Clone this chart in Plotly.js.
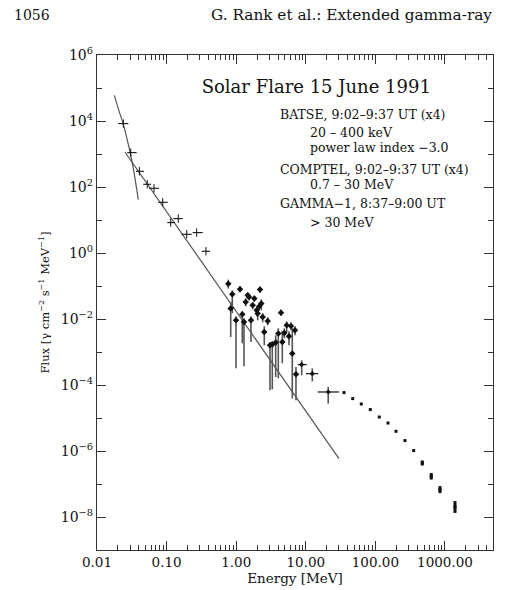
<!DOCTYPE html>
<html>
<head>
<meta charset="utf-8">
<script src="https://cdn.plot.ly/plotly-3.0.1.min.js"></script>
<style>html,body{margin:0;padding:0;background:#fff;}#chart{width:526px;height:590px;}</style>
</head>
<body>
<div id="chart"></div>
<script>
// ---------- BATSE spectrum (crosses) ----------
const batseE    = [0.0239, 0.0305, 0.0406, 0.0528, 0.0659, 0.0879, 0.1146, 0.1472, 0.1946, 0.2704, 0.3681];
const batseElo  = [0.0202, 0.0272, 0.0363, 0.0462, 0.0563, 0.0760, 0.1023, 0.1247, 0.1648, 0.2371, 0.3192];
const batseEhi  = [0.0282, 0.0371, 0.0473, 0.0597, 0.0778, 0.1038, 0.1321, 0.1703, 0.2297, 0.3304, 0.4207];
const batseFlux = [8340, 1100, 299, 121, 91.4, 34.4, 8.34, 11.0, 3.69, 4.15, 1.13];

// ---------- BATSE thermal component (curve) ----------
const thermE    = [0.01774, 0.02037, 0.0239, 0.0291, 0.0333, 0.0392];
const thermFlux = [6.01e4, 2.26e4, 7940, 1460, 361, 41.5];

// ---------- power law, index -3.0 (end points) ----------
const plawE    = [0.0252, 30.0];
const plawFlux = [1150, 5.89e-7];

// ---------- COMPTEL spectrum (diamonds with error bars) ----------
const compE    = [0.770, 0.834, 0.879, 0.993, 1.134, 1.224, 1.294, 1.369, 1.462, 1.527, 1.632, 1.726,
                  1.820, 1.970, 2.037, 2.148, 2.198, 2.294, 2.404, 2.533, 2.835, 3.059, 3.302, 3.694,
                  4.027, 4.403, 4.597, 4.911, 5.317, 5.735, 6.124, 6.397, 6.998, 7.23];
const compFlux = [0.118, 0.0207, 0.0560, 0.00914, 0.0794, 0.0139, 0.00811, 0.0327, 0.0523, 0.0465, 0.00914, 0.0260,
                  0.0415, 0.0184, 0.0146, 0.0243, 0.0778, 0.0293, 0.0115, 0.00404, 0.00869, 0.0016, 0.00168, 0.00193,
                  0.00361, 0.0156, 0.00201, 0.00377, 0.00644, 0.00299, 0.00614, 8.95e-4, 0.00455, 2.11e-4];
const compLo   = [0.0834, 0.00285, 0.0149, 3.21e-4, 0.0644, 0.00184, 3.69e-4, 0.0243, 0.042, 0.037, 0.00201, 0.0197,
                  0.033, 0.0121, 0.00914, 0.019, 0.062, 0.0184, 0.00794, 0.0016, 0.00644, 6.9e-5, 7.41e-5, 1.75e-4,
                  1.6e-4, 0.0125, 4.55e-4, 0.0026, 0.00395, 0.0016, 0.00455, 3.95e-5, 0.00321, 3.44e-5];
const compHi   = [0.156, 0.0327, 0.0741, 0.0121, 0.098, 0.0171, 0.0105, 0.0424, 0.064, 0.057, 0.0121, 0.0320,
                  0.051, 0.0243, 0.0197, 0.031, 0.095, 0.0395, 0.0149, 0.00601, 0.0113, 0.00197, 0.0021, 0.00321,
                  0.00522, 0.0195, 0.00424, 0.00522, 0.00851, 0.00424, 0.00794, 0.00522, 0.00601, 3.51e-4];

// ---------- COMPTEL wide energy bins (crosses) ----------
const compBinE    = [8.73, 12.4, 21.0];
const compBinElo  = [7.65, 10.07, 14.8];
const compBinEhi  = [10.3, 15.1, 30.0];
const compBinFlux = [4.15e-4, 2.21e-4, 6.14e-5];
const compBinLo   = [1.97e-4, 1.29e-4, 2.73e-5];
const compBinHi   = [5.6e-4, 3.21e-4, 8.7e-5];

// ---------- GAMMA-1 spectrum ----------
const gamE    = [35.4, 47.2, 62.7, 84.5, 113.7, 151.8, 197.8, 266.2, 355, 472, 635, 847, 1393];
const gamFlux = [5.89e-5, 3.87e-5, 2.66e-5, 1.8e-5, 1.07e-5, 7.05e-6, 3.95e-6, 2.07e-6, 1.03e-6, 4.33e-7, 1.71e-7, 6.76e-8, 2.01e-8];
const gamLo   = [5.89e-5, 3.87e-5, 2.66e-5, 1.8e-5, 1.07e-5, 7.05e-6, 3.95e-6, 2.07e-6, 1.03e-6, 3.63e-7, 1.36e-7, 5.3e-8, 1.33e-8];
const gamHi   = [5.89e-5, 3.87e-5, 2.66e-5, 1.8e-5, 1.07e-5, 7.05e-6, 3.95e-6, 2.07e-6, 1.03e-6, 5.15e-7, 2.15e-7, 8.63e-8, 3.04e-8];

// ---------- axis ticks ----------
const xTickVals  = [0.01, 0.1, 1, 10, 100, 1000];
const xTickText  = ['0.01', '0.10', '1.00', '10.00', '100.00', '1000.00'];
const yTickVals  = [1e6, 1e4, 1e2, 1e0, 1e-2, 1e-4, 1e-6, 1e-8];
const yTickText  = ['10<sup>6</sup>', '10<sup>4</sup>', '10<sup>2</sup>', '10<sup>0</sup>',
                    '10<sup>\u22122</sup>', '10<sup>\u22124</sup>', '10<sup>\u22126</sup>', '10<sup>\u22128</sup>'];

// ---------- text ----------
const chartTitle = 'Solar Flare 15 June 1991';
const legendLines = [
  'BATSE, 9:02\u20139:37 UT (x4)',
  '20 \u2013 400 keV',
  'power law index \u22123.0',
  'COMPTEL, 9:02\u20139:37 UT (x4)',
  '0.7 \u2013 30 MeV',
  'GAMMA\u22121, 8:37\u20139:00 UT',
  '> 30 MeV'
];
const legendIndent = [false, true, true, false, true, false, true];

// derived helpers
const xMinorVals = [];
for (let d = -2; d <= 3; d++) for (let m = 2; m <= 9; m++) { const v = m * Math.pow(10, d); if (v < 5000) xMinorVals.push(v); }
const yMinorVals = [1e5, 1e3, 1e1, 1e-1, 1e-3, 1e-5, 1e-7];
const sub = (a, b) => a.map((v, i) => v - b[i]);

const FONT = 'DejaVu Serif';
const INK = '#111';
const GREY = '#555';

const traces = [
  { // thermal curve
    x: thermE, y: thermFlux, mode: 'lines', type: 'scatter',
    line: { color: GREY, width: 1.2, shape: 'spline', smoothing: 0.8 }, hoverinfo: 'skip'
  },
  { // power law
    x: plawE, y: plawFlux, mode: 'lines', type: 'scatter',
    line: { color: GREY, width: 1.2 }, hoverinfo: 'skip'
  },
  { // BATSE
    x: batseE, y: batseFlux, mode: 'markers', type: 'scatter',
    marker: { symbol: 'line-ns-open', size: 6, color: INK, line: { color: INK, width: 1 } },
    error_x: { type: 'data', symmetric: false, array: sub(batseEhi, batseE), arrayminus: sub(batseE, batseElo),
               color: INK, thickness: 1.1, width: 0 }
  },
  { // COMPTEL
    x: compE, y: compFlux, mode: 'markers', type: 'scatter',
    marker: { symbol: 'diamond', size: 5, color: INK },
    error_y: { type: 'data', symmetric: false, array: sub(compHi, compFlux), arrayminus: sub(compFlux, compLo),
               color: GREY, thickness: 1.6, width: 0 }
  },
  { // COMPTEL wide bins
    x: compBinE, y: compBinFlux, mode: 'markers', type: 'scatter',
    marker: { symbol: 'diamond', size: 4, color: INK },
    error_x: { type: 'data', symmetric: false, array: sub(compBinEhi, compBinE), arrayminus: sub(compBinE, compBinElo),
               color: INK, thickness: 1.2, width: 0 },
    error_y: { type: 'data', symmetric: false, array: sub(compBinHi, compBinFlux), arrayminus: sub(compBinFlux, compBinLo),
               color: GREY, thickness: 1.6, width: 0 }
  },
  { // GAMMA-1
    x: gamE, y: gamFlux, mode: 'markers', type: 'scatter',
    marker: { symbol: 'square', size: 3, color: INK },
    error_y: { type: 'data', symmetric: false, array: sub(gamHi, gamFlux), arrayminus: sub(gamFlux, gamLo),
               color: INK, thickness: 3, width: 0 }
  }
];

const annotations = [
  { text: '1056', xref: 'paper', yref: 'paper', x: -0.2154, y: 1.0808, xanchor: 'left', yanchor: 'middle',
    showarrow: false, font: { family: FONT, size: 14, color: INK } },
  { text: 'G. Rank et al.: Extended gamma-ray', xref: 'paper', yref: 'paper', x: 0.2836, y: 1.0808,
    xanchor: 'left', yanchor: 'middle', showarrow: false, font: { family: FONT, size: 15.3, color: INK } }
];
const legendY = [0.8802, 0.843, 0.8135, 0.769, 0.7388, 0.699, 0.6626];
legendLines.forEach((t, i) => {
  annotations.push({ text: t, xref: 'paper', yref: 'paper', x: legendIndent[i] ? 0.5336 : 0.4563, y: legendY[i],
    xanchor: 'left', yanchor: 'middle', showarrow: false, font: { family: FONT, size: 12.5, color: INK } });
});

const axisCommon = {
  type: 'log', showgrid: false, zeroline: false, showline: true, linecolor: '#333', linewidth: 1.2,
  mirror: 'allticks', ticks: 'inside', ticklen: 9, tickwidth: 1, tickcolor: '#333',
  tickmode: 'array', tickfont: { family: FONT, size: 13.5, color: INK }
};

const layout = {
  width: 526, height: 590,
  margin: { l: 97, r: 33, t: 55, b: 40, pad: 0 },
  paper_bgcolor: '#fff', plot_bgcolor: '#fff',
  showlegend: false,
  font: { family: FONT, color: INK },
  title: { text: chartTitle, xref: 'paper', yref: 'paper', x: 0.2644, xanchor: 'left', y: 0.936, yanchor: 'middle',
           font: { family: FONT, size: 18, color: INK } },
  xaxis: Object.assign({}, axisCommon, {
    range: [-2, 3.69], tickvals: xTickVals, ticktext: xTickText,
    minor: { tickmode: 'array', tickvals: xMinorVals, ticks: 'inside', ticklen: 5, tickcolor: '#333', tickwidth: 1 },
    title: { text: 'Energy [MeV]', font: { family: FONT, size: 13.5, color: INK }, standoff: 3 }
  }),
  yaxis: Object.assign({}, axisCommon, {
    range: [-9, 6], tickvals: yTickVals, ticktext: yTickText, tickfont: { family: FONT, size: 14, color: INK },
    minor: { tickmode: 'array', tickvals: yMinorVals, ticks: 'inside', ticklen: 5, tickcolor: '#333', tickwidth: 1 },
    title: { text: 'Flux [\u03b3 cm<sup>\u22122</sup> s<sup>\u22121</sup> MeV<sup>\u22121</sup>]',
             font: { family: FONT, size: 11.5, color: INK }, standoff: 8 }
  }),
  annotations: annotations
};

Plotly.newPlot('chart', traces, layout, { staticPlot: true, displayModeBar: false });
</script>
</body>
</html>
